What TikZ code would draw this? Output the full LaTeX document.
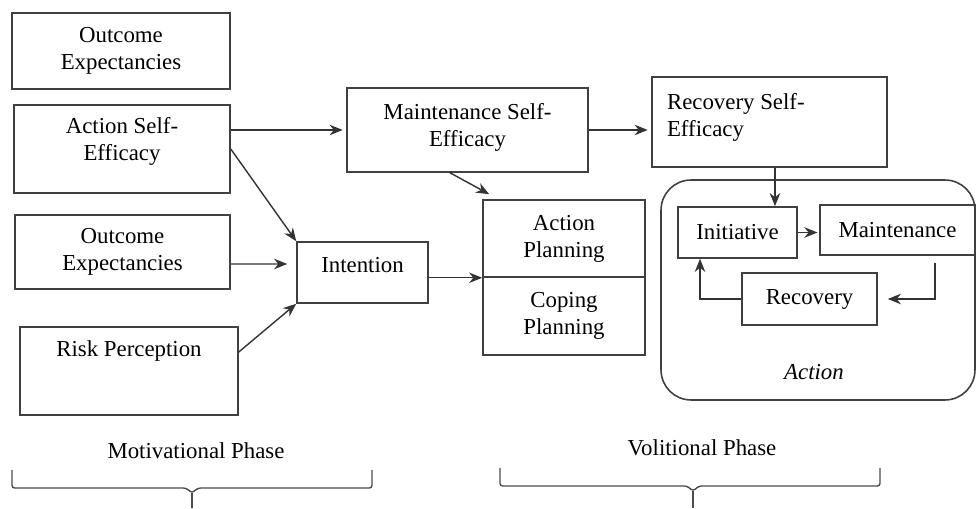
\documentclass[tikz,border=0pt]{standalone}
\usepackage{fontspec}
\setmainfont{Liberation Serif}
\usepackage{tikz}
\usetikzlibrary{arrows.meta, positioning, calc}
\newcommand{\txtdrop}[1]{\rule[-#1]{0pt}{#1}}
\tikzset{
         mybox/.style={draw=black!75, line width=0.9pt, align=center, inner sep=2pt, font=\fontsize{13}{15.4}\selectfont},
         myleftbox/.style={mybox, align=flush left, inner xsep=0.3cm, text width=4.1cm},
         mygroup/.style={draw=black!75, line width=0.9pt, rounded corners=0.6cm},
         mylabel/.style={draw=none, font=\fontsize{13}{15.4}\selectfont},
         mybrace/.style={-, draw=black!70, line width=0.8pt, rounded corners=1.5pt}
      }
\begin{document}
\begin{tikzpicture}[>={Stealth[length=7.5pt,width=6pt]}, ->, x=0.02cm, y=-0.02cm, line width=0.8pt, draw=black!80]
  \useasboundingbox (0,0) rectangle (977,509);

  % motivational side
  \node[mybox, minimum width=4.36cm, minimum height=1.52cm] (oeA) at (121,51) {Outcome\\Expectancies};
  \node[mybox, minimum width=4.32cm, minimum height=1.76cm] (ase) at (122,149) {Action Self-\\Efficacy\txtdrop{0.42cm}};
  \node[mybox, minimum width=4.30cm, minimum height=1.48cm] (oeB) at (122.5,252) {Outcome\\Expectancies};
  \node[mybox, minimum width=4.36cm, minimum height=1.76cm] (risk) at (129,371) {Risk Perception\txtdrop{0.88cm}};
  \node[mybox, minimum width=2.62cm, minimum height=1.22cm] (intention) at (362.5,272.5) {Intention\txtdrop{0.3cm}};

  % volitional side
  \node[mybox, minimum width=4.82cm, minimum height=1.68cm] (mse) at (467.5,130) {Maintenance Self-\\Efficacy\txtdrop{0.22cm}};
  \node[mybox, minimum width=3.24cm, minimum height=1.54cm] (ap) at (564,238.5) {Action\\Planning};
  \node[mybox, minimum width=3.24cm, minimum height=1.56cm] (cp) at (564,316) {Coping\\Planning};
  \node[myleftbox, minimum height=1.80cm] (rse) at (769.5,122) {Recovery Self-\\Efficacy\txtdrop{0.30cm}};

  \node[mygroup, minimum width=6.28cm, minimum height=4.4cm] (actiongroup) at (818,290) {};
  \node[mybox, minimum width=2.38cm, minimum height=1.02cm] (initiative) at (737.5,232.5) {Initiative};
  \node[mybox, minimum width=3.10cm, minimum height=1.00cm] (maintenance) at (897.5,230) {Maintenance};
  \node[mybox, minimum width=2.70cm, minimum height=1.04cm] (recovery) at (809.5,299) {Recovery};
  \node[mylabel, font=\fontsize{13}{15.4}\selectfont\itshape] (actionlbl) at (814,372) {Action};

  % arrows
  \draw (mse.west -| ase.east) -- ([xshift=-2pt]mse.west);
  \draw (ase.east) -- (intention.north west);
  \draw ([yshift=-0.24cm]oeB.east) -- ([xshift=-0.18cm,yshift=0.17cm]intention.west);
  \draw ([yshift=0.38cm]risk.east) -- (intention.south west);
  \draw (intention.east |- ap.south west) -- (ap.south west);
  \draw ([xshift=-0.35cm]mse.south) -- ([xshift=0.14cm,yshift=0.1cm]ap.north west);
  \draw (mse.east) -- ([xshift=-2pt]mse.east -| rse.west);
  \draw ([xshift=0.11cm]rse.south) -- ([xshift=0.11cm]rse.south |- initiative.north);
  \draw (initiative.east) -- ([xshift=-1pt]initiative.east -| maintenance.west);
  \draw[shorten <=4pt] ([xshift=0.75cm]maintenance.south) |- ([xshift=0.2cm]recovery.east);
  \draw (recovery.west) -| ([xshift=-0.75cm]initiative.south);

  % phases
  \node[mylabel] (motivlbl) at (196,451) {Motivational Phase};
  \node[mylabel] (volitlbl) at (702,448) {Volitional Phase};
  \coordinate (motivL) at (12,470);
  \coordinate (motivR) at (372,470);
  \coordinate (motivT) at (192,508);
  \coordinate (volitL) at (500,468);
  \coordinate (volitR) at (880,468);
  \coordinate (volitT) at (693,508);
  \draw[mybrace] (motivL) -- ++(0,18) -- ($(motivT |- 0,488)+(-6,0)$) -- ($(motivT |- 0,488)+(0,5)$) -- ($(motivT |- 0,488)+(6,0)$) -- (motivR |- 0,488) -- (motivR);
  \draw[mybrace] ($(motivT |- 0,488)+(0,5)$) -- (motivT);
  \draw[mybrace] (volitL) -- ++(0,18) -- ($(volitT |- 0,486)+(-6,0)$) -- ($(volitT |- 0,486)+(0,5)$) -- ($(volitT |- 0,486)+(6,0)$) -- (volitR |- 0,486) -- (volitR);
  \draw[mybrace] ($(volitT |- 0,486)+(0,5)$) -- (volitT);
\end{tikzpicture}
\end{document}
